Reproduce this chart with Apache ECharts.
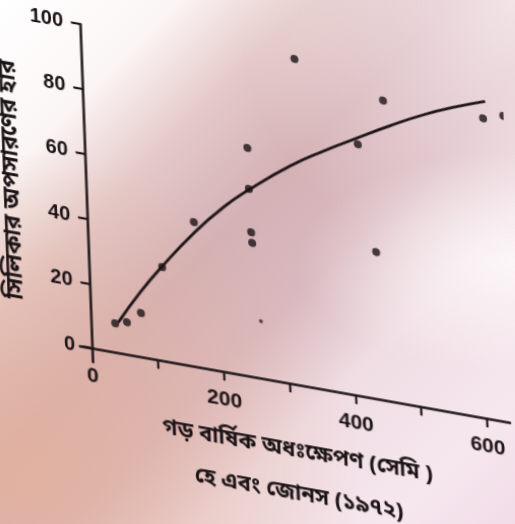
<!DOCTYPE html>
<html>
<head>
<meta charset="utf-8">
<script src="https://cdn.jsdelivr.net/npm/echarts@6/dist/echarts.min.js"></script>
<style>
html,body{margin:0;padding:0;width:515px;height:524px;overflow:hidden;}
body{
  background:
    radial-gradient(ellipse at 100% 0%, rgba(247,236,240,0.85) 0%, rgba(247,236,240,0) 38%),
    radial-gradient(ellipse at 5% 90%, rgba(228,176,152,0.75) 0%, rgba(228,176,152,0) 48%),
    radial-gradient(ellipse at 100% 50%, rgba(255,252,253,0.8) 0%, rgba(255,252,253,0) 30%),
    linear-gradient(135deg, #ffffff 0%, #fbf6f5 17%, #e4c9c8 30%, #d4b1b5 44%, #d9b9bf 57%, #efdde3 70%, #f6e7ee 88%, #f1dce7 100%);
}
#chart{position:absolute;left:0;top:0;width:515px;height:524px;
  transform-origin:92px 348px;
  transform:matrix(1,0.178,0.037,1,0,0);}
</style>
</head>
<body>
<div id="chart"></div>
<script>
// Mean annual precipitation (cm) vs rate of silica removal
var pointsX = [37, 55, 77, 112, 163, 249, 249, 250, 251, 326, 418, 459, 440, 611, 642];
var pointsY = [9, 10, 13.6, 29, 44.8, 70.8, 58.1, 44.8, 41.5, 101, 78, 93, 45.5, 93, 94.8];
var faintX = [260];
var faintY = [17.7];
var curveX = [42, 77, 111, 163, 209, 250, 313, 365, 418, 468, 520, 572, 615];
var curveY = [9.5, 20, 29, 41.5, 51, 58, 67.5, 74, 80, 85.5, 90.8, 95.2, 98.4];
var xTicks = [100, 200, 300, 400, 500, 600];
var xLabels = [0, 200, 400, 600];
var yTicks = [0, 20, 40, 60, 80, 100];
var xTitle = 'গড় বার্ষিক অধঃক্ষেপণ (সেমি )\nহে এবং জোনস (১৯৭২)';
var yTitle = 'সিলিকার অপসারণের হার';

function zip(a, b) { return a.map(function (v, i) { return [v, b[i]]; }); }

var ink = '#1a1214';
var bengali = '"Noto Sans Bengali","Lohit Bengali","FreeSans","Noto Sans",sans-serif';
var digits = '"Liberation Sans", Arial, sans-serif';
var chart = echarts.init(document.getElementById('chart'), null, {renderer: 'canvas'});
chart.setOption({
  animation: false,
  backgroundColor: 'transparent',
  grid: {left: 80, top: 24, width: 430, height: 338, containLabel: false, outerBoundsMode: 'none'},
  xAxis: {
    type: 'value', min: -18, max: 635,
    axisLine: {onZero: true, lineStyle: {color: ink, width: 2.5}},
    axisTick: {show: true, customValues: xTicks, length: 9, lineStyle: {color: ink, width: 2.2}},
    axisLabel: {customValues: xLabels, margin: 4, color: ink, fontSize: 21, fontWeight: 'bold',
      fontFamily: digits},
    splitLine: {show: false},
    name: xTitle, nameLocation: 'middle', nameGap: 33,
    nameTextStyle: {color: ink, fontSize: 22, fontWeight: 'bold', lineHeight: 43, fontFamily: bengali}
  },
  yAxis: {
    type: 'value', min: -4.3, max: 100,
    axisLine: {onZero: true, lineStyle: {color: ink, width: 2.5}},
    axisTick: {show: true, customValues: yTicks, length: 9, lineStyle: {color: ink, width: 2.2}},
    axisLabel: {customValues: yTicks, margin: 5, color: ink, fontSize: 20, fontWeight: 'bold',
      fontFamily: digits},
    splitLine: {show: false},
    name: yTitle, nameLocation: 'middle', nameGap: 40,
    nameTextStyle: {color: ink, fontSize: 23, fontWeight: 'bold', fontFamily: bengali}
  },
  series: [
    {type: 'line', data: zip(curveX, curveY), smooth: true, showSymbol: false,
      lineStyle: {color: ink, width: 2.6}, clip: false, z: 3},
    {type: 'scatter', data: zip(pointsX, pointsY), symbolSize: 8,
      itemStyle: {color: ink}, clip: false, z: 4},
    {type: 'scatter', data: zip(faintX, faintY), symbolSize: 4,
      itemStyle: {color: '#3a2a2c'}, clip: false, z: 4}
  ]
});
</script>
</body>
</html>
